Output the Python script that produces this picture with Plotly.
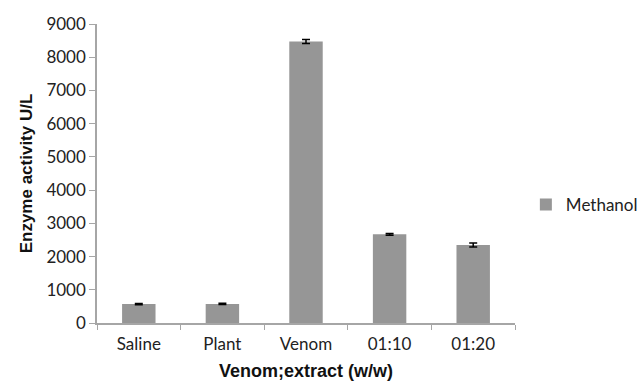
import plotly.graph_objects as go

categories = ["Saline", "Plant", "Venom", "01:10", "01:20"]
methanol = [570, 575, 8470, 2670, 2350]
methanol_err = [20, 20, 60, 25, 60]
y_ticks = [0, 1000, 2000, 3000, 4000, 5000, 6000, 7000, 8000, 9000]

fig = go.Figure()
fig.add_trace(go.Bar(
    x=categories, y=methanol, name="Methanol",
    marker=dict(color="#969696", line=dict(width=0)),
    width=0.4,
    error_y=dict(type="data", array=methanol_err, visible=True,
                 color="#000000", thickness=1.5, width=4),
))

tick_font = dict(family="Lato, Open Sans, sans-serif", size=17, color="#222222")

fig.update_layout(
    width=644, height=383,
    margin=dict(l=97, r=129, t=24, b=60, pad=0, autoexpand=False),
    paper_bgcolor="white", plot_bgcolor="white",
    showlegend=True,
    legend=dict(x=1.026, y=0.395, xanchor="left", yanchor="middle",
                font=dict(family="Lato, Open Sans, sans-serif", size=17, color="#222222"),
                bgcolor="rgba(0,0,0,0)"),
    xaxis=dict(
        showline=True, linecolor="#A6A6A6", linewidth=1.5,
        ticks="outside", tickson="boundaries", ticklen=5, tickcolor="#A6A6A6",
        tickfont=tick_font, showgrid=False, ticklabelstandoff=5,
        title=dict(text="<b>Venom;extract (w/w)</b>",
                   font=dict(family="Liberation Sans, Arial, sans-serif", size=18, color="#111111"),
                   standoff=11),
    ),
    yaxis=dict(
        range=[0, 9000], tickvals=y_ticks,
        showline=True, linecolor="#A6A6A6", linewidth=1.5,
        ticks="outside", ticklen=6, tickcolor="#A6A6A6",
        tickfont=tick_font, showgrid=False, zeroline=False,
        title=dict(text="<b>Enzyme activity U/L</b>",
                   font=dict(family="Liberation Sans, Arial, sans-serif", size=17, color="#111111"),
                   standoff=9),
    ),
)

fig.write_html("out.html")
